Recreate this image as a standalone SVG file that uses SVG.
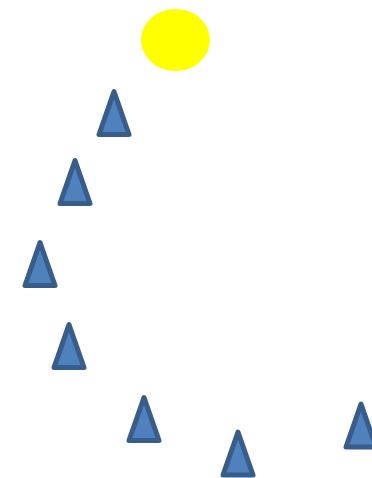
<svg xmlns="http://www.w3.org/2000/svg" xmlns:xlink="http://www.w3.org/1999/xlink" width="372" height="478" viewBox="0 0 372 478">
<style>
.tri{fill:#4F81BD;stroke:#385D8A;stroke-width:5;stroke-linejoin:round}
.sun{fill:#FFFF00}
</style>
<defs>
<path id="t" class="tri" d="M0,0 L15,43 L-15,43 Z"/>
</defs>
<rect width="372" height="478" fill="#fff"/>
<g id="sun"><ellipse class="sun" cx="175.5" cy="40" rx="34.5" ry="31"/></g>
<g id="tri1"><use xlink:href="#t" x="114" y="91.5"/></g>
<g id="tri2"><use xlink:href="#t" x="75" y="160.5"/></g>
<g id="tri3"><use xlink:href="#t" x="40" y="242.5"/></g>
<g id="tri4"><use xlink:href="#t" x="69" y="324.5"/></g>
<g id="tri5"><use xlink:href="#t" x="144" y="397.5"/></g>
<g id="tri6"><use xlink:href="#t" x="238" y="432"/></g>
<g id="tri7"><use xlink:href="#t" x="361" y="404"/></g>
<g id="connectors"/>
</svg>
